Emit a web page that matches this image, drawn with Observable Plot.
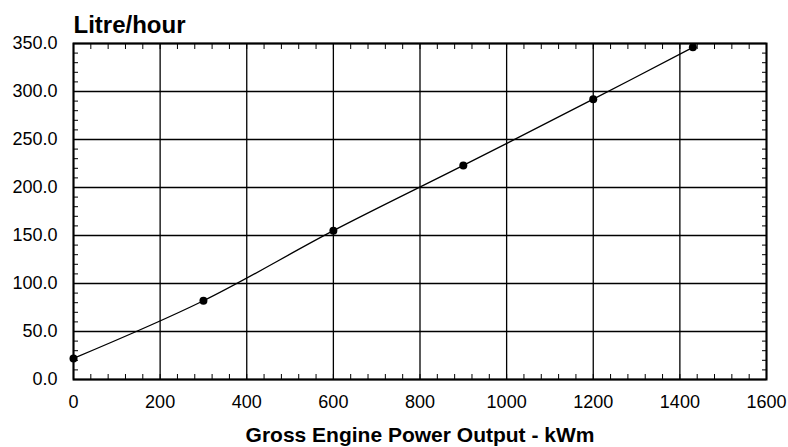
<!DOCTYPE html>
<html><head><meta charset="utf-8">
<script src="https://cdn.jsdelivr.net/npm/d3@7"></script>
<script src="https://cdn.jsdelivr.net/npm/@observablehq/plot@0.6"></script>
<style>body{margin:0;background:#fff}</style>
</head><body><div id="chart"></div>
<script>
const power = [0, 300, 600, 900, 1200, 1430];
const litres = [22, 82, 155, 223, 292, 346];
const xTicks = [0, 200, 400, 600, 800, 1000, 1200, 1400, 1600];
const yTicks = [0, 50, 100, 150, 200, 250, 300, 350];
const xMinor = d3.range(0, 1601, 40);
const yMinor = d3.range(0, 351, 10);
const yTitle = "Litre/hour";
const xTitle = "Gross Engine Power Output - kWm";

const data = power.map((p, i) => ({p, l: litres[i]}));

const chart = Plot.plot({
  width: 788, height: 447,
  marginLeft: 73, marginRight: 22, marginTop: 43, marginBottom: 68,
  style: {fontFamily: "Liberation Sans, Arial, sans-serif", background: "#fff", color: "#000"},
  x: {domain: [0, 1600]},
  y: {domain: [0, 350]},
  marks: [
    Plot.ruleX(xTicks, {stroke: "#000", strokeWidth: 1.3}),
    Plot.ruleY(yTicks, {stroke: "#000", strokeWidth: 1.3}),
    Plot.axisX({anchor: "bottom", ticks: xMinor, tickSize: -5, text: null, label: null}),
    Plot.axisX({anchor: "top", ticks: xMinor, tickSize: -5, text: null, label: null}),
    Plot.axisY({anchor: "left", ticks: yMinor, tickSize: -5, text: null, label: null}),
    Plot.axisY({anchor: "right", ticks: yMinor, tickSize: -5, text: null, label: null}),
    Plot.axisX({anchor: "bottom", ticks: xTicks, tickSize: 0, tickPadding: 16, fontSize: 18, label: null, tickFormat: d3.format("d")}),
    Plot.axisY({anchor: "left", ticks: yTicks, tickSize: 0, tickPadding: 16, fontSize: 18, label: null, tickFormat: d3.format(".1f")}),
    Plot.frame({stroke: "#000", strokeWidth: 2}),
    Plot.line(data, {x: "p", y: "l", curve: "catmull-rom", stroke: "#000", strokeWidth: 1.3}),
    Plot.dot(data, {x: "p", y: "l", r: 4, fill: "#000"}),
    Plot.text([yTitle], {frameAnchor: "top-left", dx: 0, dy: -11, textAnchor: "start", lineAnchor: "bottom", fontSize: 24, fontWeight: "bold"}),
    Plot.text([xTitle], {frameAnchor: "bottom", dy: 55.5, lineAnchor: "middle", fontSize: 21, fontWeight: "bold"})
  ]
});
document.getElementById("chart").appendChild(chart);
</script>
</body></html>
